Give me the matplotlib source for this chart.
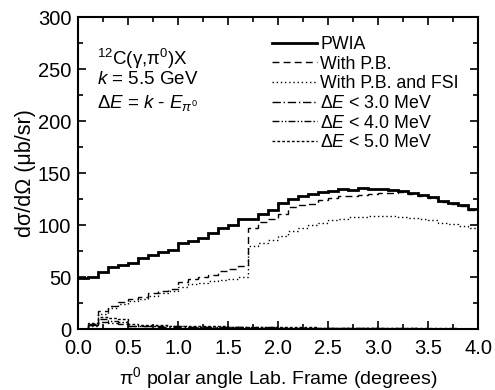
import numpy as np
import matplotlib
matplotlib.use('Agg')
import matplotlib.pyplot as plt
from matplotlib.ticker import MultipleLocator, FormatStrFormatter

plt.rcParams['font.family'] = ['Liberation Sans', 'DejaVu Sans']
plt.rcParams['mathtext.fontset'] = 'custom'
plt.rcParams['mathtext.rm'] = 'Liberation Sans'
plt.rcParams['mathtext.it'] = 'Liberation Sans:italic'

# bin edges (degrees), 0.1 deg bins
edges = np.linspace(0.0, 4.0, 41)

pwia = [49, 50, 55, 60, 62, 64, 68, 71, 74, 76,
        83, 85, 88, 92, 97, 100, 106, 106, 111, 115,
        121, 125, 128, 130, 132, 133, 135, 134, 136, 135,
        134.5, 134, 133, 131, 129, 127, 123, 121, 119, 116]
with_pb = [0, 4, 17, 22, 26, 29, 31, 35, 37, 39,
           45, 48, 50, 52, 56, 58, 61, 97, 103, 106,
           111, 117, 119, 120, 124, 126, 128, 128, 129, 130,
           131, 131, 132, 130, 128, 126, 122, 120, 118, 115]
with_fsi = [0, 3, 15, 20, 24, 27, 29, 32, 35, 37,
            41, 43, 44, 46, 47, 48, 50, 80, 83, 86,
            90, 94, 97, 100, 102, 105, 106, 108, 108, 109,
            109, 108.5, 108, 107, 106, 105, 102, 101, 99, 97]
de3 = [0, 4, 7, 6, 5, 3, 2.8, 2.6, 2.5, 2.4,
       2.2, 2.1, 2.0, 1.9, 1.8, 1.7, 1.6, 1.5, 1.4, 1.3,
       1.2, 1.1, 1.0, 1.0, 0.9, 0.9, 0.8, 0.8, 0.7, 0.7,
       0.6, 0.6, 0.5, 0.5, 0.5, 0.4, 0.4, 0.4, 0.3, 0.3]
de4 = [0, 5, 10, 8, 7, 3.5, 3.2, 3.0, 2.9, 2.8,
       2.6, 2.5, 2.4, 2.3, 2.2, 2.0, 1.9, 1.8, 1.7, 1.6,
       1.5, 1.4, 1.3, 1.2, 1.2, 1.1, 1.0, 1.0, 0.9, 0.9,
       0.8, 0.8, 0.7, 0.7, 0.6, 0.6, 0.5, 0.5, 0.5, 0.4]
de5 = [0, 6, 12, 11, 10, 4.5, 4.0, 3.8, 3.6, 3.4,
       3.2, 3.0, 2.9, 2.8, 2.6, 2.5, 2.4, 2.2, 2.1, 2.0,
       1.9, 1.8, 1.7, 1.6, 1.5, 1.4, 1.3, 1.2, 1.2, 1.1,
       1.0, 1.0, 0.9, 0.9, 0.8, 0.8, 0.7, 0.7, 0.6, 0.6]

fig = plt.figure(figsize=(4.95, 3.9), dpi=100)
ax = fig.add_axes([0.158, 0.156, 0.808, 0.80])

ax.stairs(pwia, edges, baseline=None, color='black', lw=2.0, label='PWIA')
ax.stairs(with_pb, edges, baseline=None, color='black', lw=1.0,
          linestyle=(0, (5, 3)), label='With P.B.')
ax.stairs(with_fsi, edges, baseline=None, color='black', lw=1.0,
          linestyle=(0, (1, 2)), label='With P.B. and FSI')
ax.stairs(de3, edges, baseline=None, color='black', lw=1.0,
          linestyle=(0, (6, 2, 1, 2)), label=r'Δ$E$ < 3.0 MeV')
ax.stairs(de4, edges, baseline=None, color='black', lw=1.0,
          linestyle=(0, (5, 1.5, 1, 1.5, 1, 1.5)), label=r'Δ$E$ < 4.0 MeV')
ax.stairs(de5, edges, baseline=None, color='black', lw=1.0,
          linestyle=(0, (2, 1.5)), label=r'Δ$E$ < 5.0 MeV')

ax.set_xlim(0, 4)
ax.set_ylim(0, 300)
ax.xaxis.set_major_locator(MultipleLocator(0.5))
ax.xaxis.set_minor_locator(MultipleLocator(0.25))
ax.yaxis.set_major_locator(MultipleLocator(50))
ax.yaxis.set_minor_locator(MultipleLocator(25))
ax.xaxis.set_major_formatter(FormatStrFormatter('%.1f'))
ax.tick_params(which='both', direction='in', top=True, right=True,
               labelsize=14.5, width=1.2)
ax.tick_params(which='major', length=6, pad=5)
ax.tick_params(axis='x', which='major', pad=7)
ax.tick_params(which='minor', length=3.5)
for s in ax.spines.values():
    s.set_linewidth(1.5)

ax.set_xlabel(r'π$^{0}$ polar angle Lab. Frame (degrees)', fontsize=14, labelpad=5)
ax.set_ylabel('dσ/dΩ (μb/sr)', fontsize=15.5, labelpad=1)

ax.text(0.19, 254, r'$^{12}$C(γ,π$^{0}$)X', fontsize=13.5, va='baseline')
ax.text(0.19, 235.5, r'$k$ = 5.5 GeV', fontsize=13.5, va='baseline')
ax.text(0.19, 213, r'Δ$E$ = $k$ - $E_{π^{0}}$', fontsize=13.5, va='baseline')

ax.legend(loc='upper right', bbox_to_anchor=(0.952, 0.94), frameon=False,
          fontsize=12.8, handlelength=2.5, handletextpad=0.2,
          labelspacing=0.15, borderaxespad=0, borderpad=0)

fig.savefig('out.png', dpi=100)
